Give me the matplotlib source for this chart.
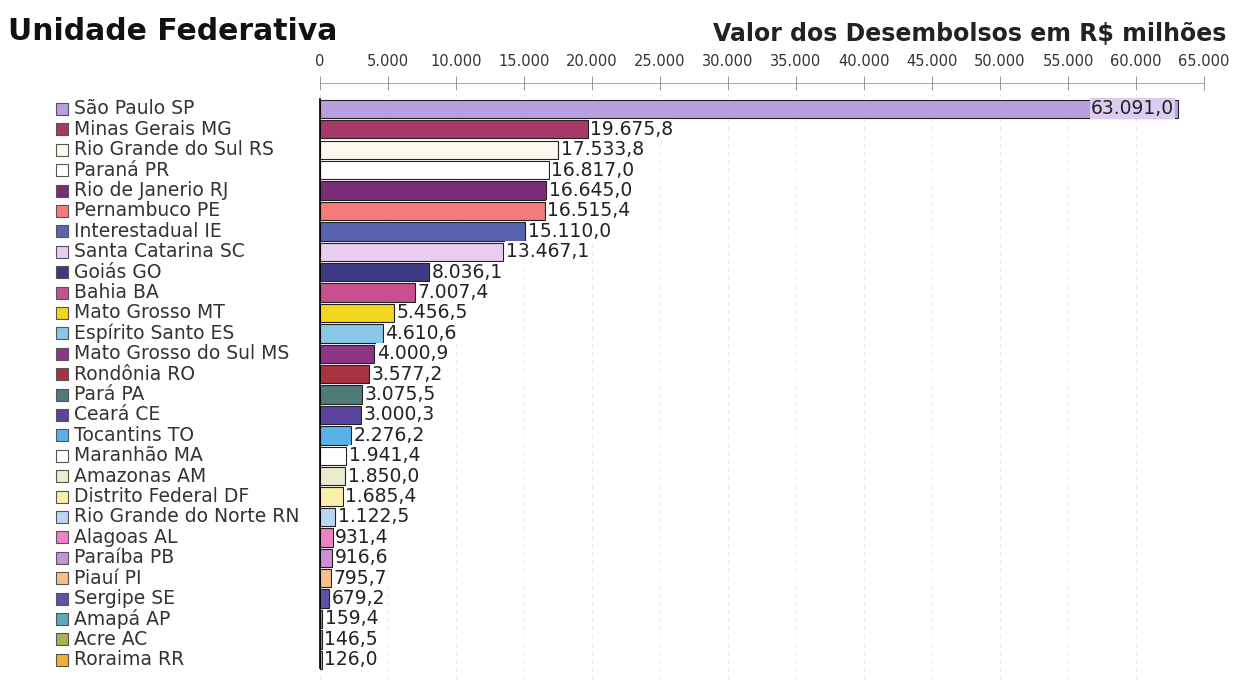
import matplotlib
matplotlib.use("Agg")
import matplotlib.pyplot as plt
import matplotlib.transforms as mtransforms
import numpy as np

# ==============================================================================
# Data
# ==============================================================================
estados = ["São Paulo SP", "Minas Gerais MG", "Rio Grande do Sul RS", "Paraná PR",
           "Rio de Janerio RJ", "Pernambuco PE", "Interestadual IE", "Santa Catarina SC",
           "Goiás GO", "Bahia BA", "Mato Grosso MT", "Espírito Santo ES",
           "Mato Grosso do Sul MS", "Rondônia RO", "Pará PA", "Ceará CE",
           "Tocantins TO", "Maranhão MA", "Amazonas AM", "Distrito Federal DF",
           "Rio Grande do Norte RN", "Alagoas AL", "Paraíba PB", "Piauí PI",
           "Sergipe SE", "Amapá AP", "Acre AC", "Roraima RR"]
valores = [63091.0, 19675.8, 17533.8, 16817.0, 16645.0, 16515.4, 15110.0, 13467.1,
           8036.1, 7007.4, 5456.5, 4610.6, 4000.9, 3577.2, 3075.5, 3000.3,
           2276.2, 1941.4, 1850.0, 1685.4, 1122.5, 931.4, 916.6, 795.7,
           679.2, 159.4, 146.5, 126.0]
cores = ["#b99ee0", "#a83a6a", "#fbf8ec", "#ffffff", "#7a2e78", "#f57a7a", "#5a63b0", "#e8cdf0",
         "#3d3a85", "#c84f90", "#f2d620", "#86c8e6", "#8b3585", "#a8323f", "#4f7a7a", "#5a44a0",
         "#5ab0e8", "#ffffff", "#ebebcf", "#f8f0a8", "#bcd4f5", "#f080c8", "#cc90d8", "#f5c08a",
         "#5a54a8", "#5aa8b8", "#a8b050", "#f0b030"]
ticks = np.arange(0, 65001, 5000)
tick_labels = ["0", "5.000", "10.000", "15.000", "20.000", "25.000", "30.000", "35.000",
               "40.000", "45.000", "50.000", "55.000", "60.000", "65.000"]


def br(v):
    """ formata numero no padrao brasileiro """
    return f"{v:,.1f}".replace(",", "X").replace(".", ",").replace("X", ".")


# ==============================================================================
# Plot
# ==============================================================================
fig = plt.figure(figsize=(12.33, 6.86), dpi=100)
ax = fig.add_axes([320 / 1233, 1 - 680 / 686, 884 / 1233, (680 - 83) / 686])

y = np.arange(len(estados))
ax.barh(y, valores, height=0.9, color=cores, edgecolor="#222222", linewidth=0.8, zorder=2)

ax.set_xlim(0, 65000)
ax.set_ylim(27.99, -1.27)

ax.xaxis.tick_top()
ax.set_xticks(ticks)
ax.set_xticklabels(tick_labels, fontsize=10.5, color="#333333")
ax.tick_params(axis="x", direction="inout", length=10, width=0.6, color="#888888", pad=5)
ax.set_yticks([])
for s in ["right", "bottom"]:
    ax.spines[s].set_visible(False)
ax.spines["top"].set_color("#999999")
ax.spines["top"].set_linewidth(0.6)
ax.spines["left"].set_color("black")
ax.spines["left"].set_linewidth(1.2)
ax.spines["left"].set_bounds(-0.5, 27.4)
ax.grid(axis="x", color="#e2e2e2", linestyle=(0, (4, 6)), linewidth=0.6, zorder=0)

# rotulos de valor
for i, v in enumerate(valores):
    if i == 0:
        ax.text(v - 300, i, br(v), va="center", ha="right", fontsize=13.5, color="#222222",
                bbox=dict(boxstyle="square,pad=0.05", fc="#d9cdf0", ec="none"), zorder=3)
    else:
        ax.text(v + 180, i, br(v), va="center", ha="left", fontsize=13.5, color="#222222",
                bbox=dict(boxstyle="square,pad=0.05", fc="white", ec="none"), zorder=3)

# legenda a esquerda
trans = mtransforms.blended_transform_factory(fig.transFigure, ax.transData)
ax.scatter(np.full(len(y), 62 / 1233), y, marker="s", s=75, c=cores, edgecolors="#555555",
           linewidths=0.8, transform=trans, clip_on=False, zorder=3)
for i, nome in enumerate(estados):
    ax.text(74 / 1233, i, nome, transform=trans, va="center", ha="left", fontsize=13.5,
            color="#333333")

fig.text(8 / 1233, 1 - 31 / 686, "Unidade Federativa", fontsize=21.5, fontweight="bold",
         va="center", ha="left", color="#111111")
fig.text(1226 / 1233, 1 - 34 / 686, "Valor dos Desembolsos em R$ milhões", fontsize=17,
         fontweight="bold", va="center", ha="right", color="#222222")

plt.savefig("out.png", dpi=100)
